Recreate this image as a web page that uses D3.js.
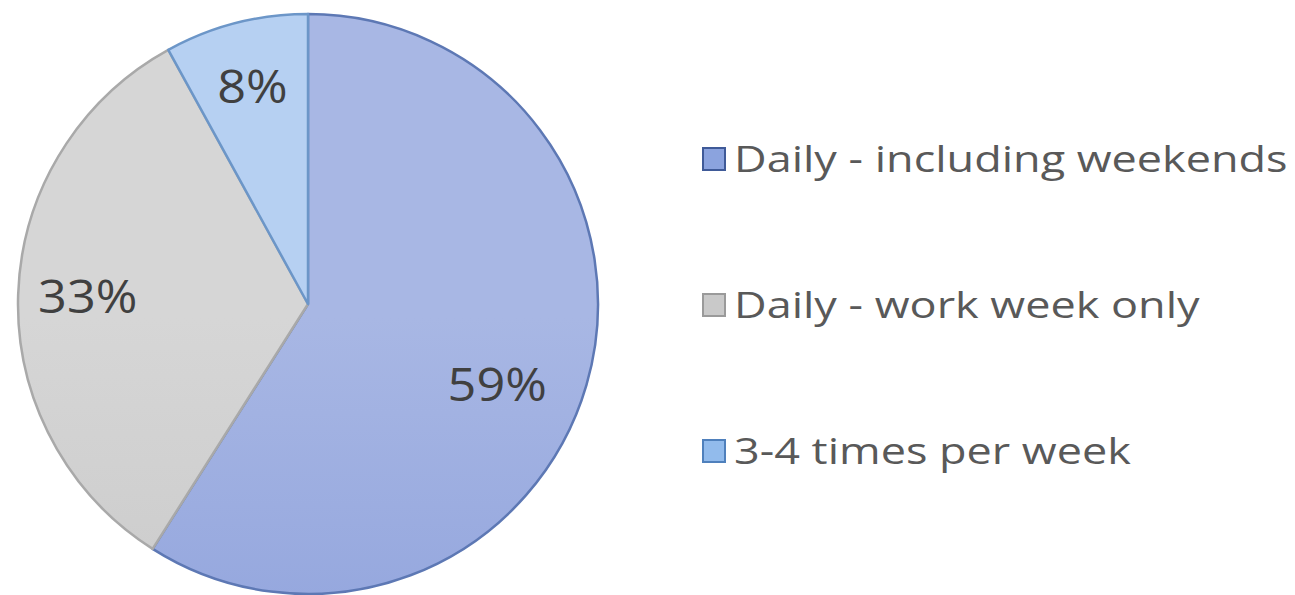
<!DOCTYPE html>
<html>
<head>
<meta charset="utf-8">
<script src="https://cdn.jsdelivr.net/npm/d3@7"></script>
<style>
  body { margin: 0; background: #ffffff; }
  text { font-family: "Open Sans", "Noto Sans", sans-serif; }
</style>
</head>
<body>
<div id="container"></div>
<script>
// Chart Data
var categories = ["Daily - including weekends", "Daily - work week only", "3-4 times per week"];
var values = [59, 33, 8];
var labels = ["59%", "33%", "8%"];

// Look
var WIDTH = 1295, HEIGHT = 595;
var CX = 308, CY = 304, R = 290;
var topColors = ["#a8b7e4", "#d6d6d6", "#b6d0f2"];
var bottomColors = ["#8398d8", "#c2c2c2", "#a2c2ec"];
var strokeColors = ["#5d78b4", "#a9a9a9", "#6c96c8"];
var legendFill = ["#8ba3de", "#c9c9c9", "#92bbec"];
var legendStroke = ["#3f5a98", "#9a9a9a", "#4f80bc"];
var labelRadius = [0.71, 0.76, 0.77]; // Fraction Of Radius For Each Slice Label
var labelShift = [7, 0, 0]; // Degrees To Nudge Label Angle

var svg = d3.select('#container').append('svg')
    .attr('width', WIDTH)
    .attr('height', HEIGHT);

// Vertical Gradients For Each Slice
var defs = svg.append('defs');
categories.forEach(function (c, i) {
  var g = defs.append('linearGradient')
      .attr('id', 'grad' + i)
      .attr('gradientUnits', 'userSpaceOnUse')
      .attr('x1', 0).attr('y1', CY - R)
      .attr('x2', 0).attr('y2', CY + R);
  g.append('stop').attr('offset', '0%').attr('stop-color', topColors[i]);
  g.append('stop').attr('offset', '100%').attr('stop-color', bottomColors[i]);
});

var pie = d3.pie().sort(null).value(function (d) { return d; });
var arcs = pie(values);
var arc = d3.arc().innerRadius(0).outerRadius(R);

var g = svg.append('g').attr('transform', 'translate(' + CX + ',' + CY + ')');

g.selectAll('path.slice')
  .data(arcs)
  .enter().append('path')
  .attr('class', 'slice')
  .attr('d', arc)
  .attr('fill', function (d, i) { return 'url(#grad' + i + ')'; })
  .attr('stroke', function (d, i) { return strokeColors[i]; })
  .attr('stroke-width', 2.5)
  .attr('stroke-linejoin', 'round');

g.selectAll('text.lbl')
  .data(arcs)
  .enter().append('text')
  .attr('class', 'lbl')
  .attr('transform', function (d, i) {
    var r = R * labelRadius[i];
    var a = d3.arc().innerRadius(r).outerRadius(r);
    var s = labelShift[i] * Math.PI / 180;
    var c = a.centroid({startAngle: d.startAngle + s, endAngle: d.endAngle + s});
    return 'translate(' + c + ') scale(1.12,1)';
  })
  .attr('text-anchor', 'middle')
  .attr('dy', '0.35em')
  .attr('font-size', 45)
  .attr('fill', '#404040')
  .text(function (d, i) { return labels[i]; });

// Legend
var legendY = d3.scalePoint().domain(categories).range([159, 451]);
var legend = svg.selectAll('g.legend')
  .data(categories)
  .enter().append('g')
  .attr('class', 'legend')
  .attr('transform', function (d) { return 'translate(703,' + legendY(d) + ')'; });

legend.append('rect')
  .attr('x', 0).attr('y', -11)
  .attr('width', 22).attr('height', 22)
  .attr('fill', function (d, i) { return legendFill[i]; })
  .attr('stroke', function (d, i) { return legendStroke[i]; })
  .attr('stroke-width', 2);

// Text Is Stretched Sideways To Match The Wide Original Face
legend.append('text')
  .attr('transform', 'translate(31,0) scale(1.25,1)')
  .attr('dy', '0.35em')
  .attr('font-size', 36)
  .attr('fill', '#595959')
  .text(function (d) { return d; });
</script>
</body>
</html>
